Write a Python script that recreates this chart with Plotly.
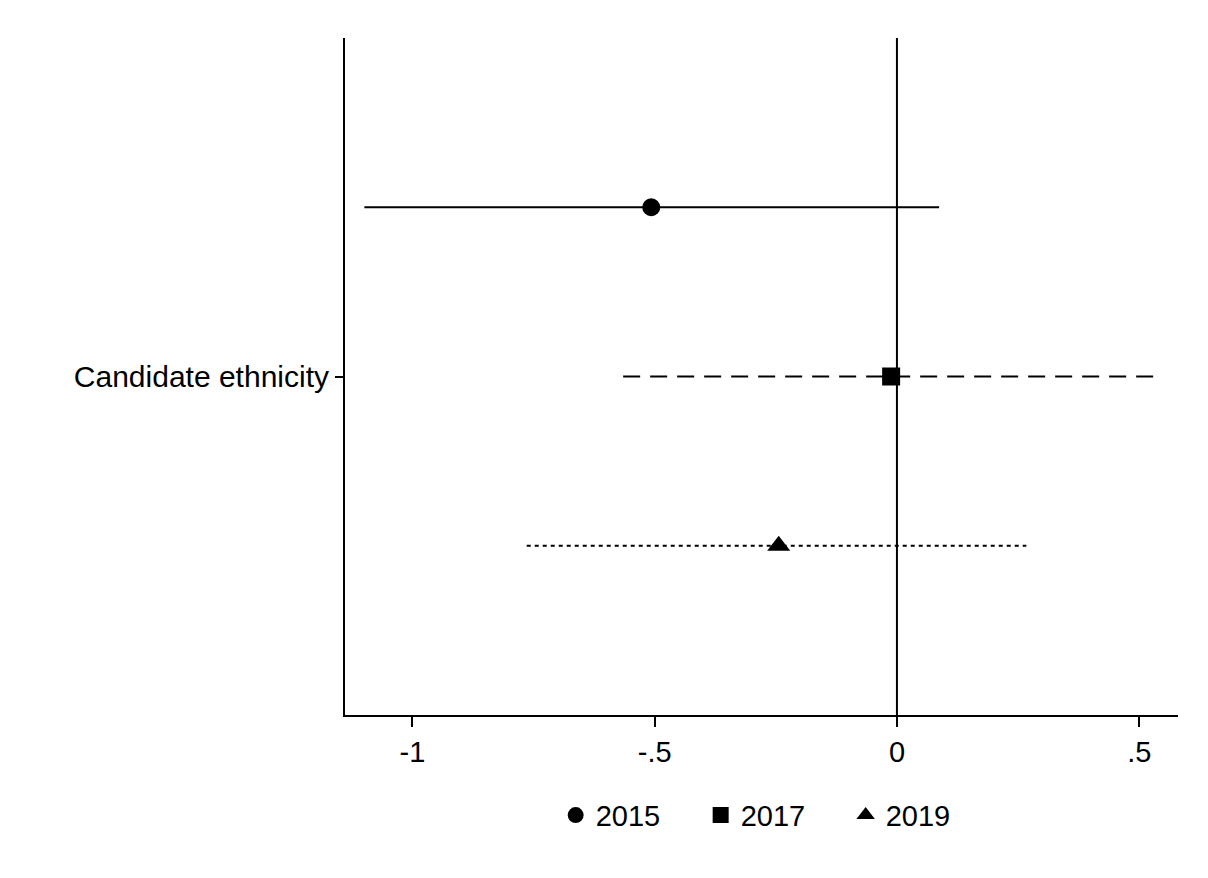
import plotly.graph_objects as go

category = "Candidate ethnicity"
years = ["2015", "2017", "2019"]
estimates = [-0.507, -0.012, -0.244]
lower = [-1.099, -0.565, -0.764]
upper = [0.087, 0.545, 0.267]
offsets = [0.25, 0.0, -0.25]
symbols = ["circle", "square", "triangle-up"]
marker_sizes = [18, 18, 20]
dashes = ["solid", "17px,10px", "4px,4px"]
xticks = [-1, -0.5, 0, 0.5]
xticklabels = ["-1", "-.5", "0", ".5"]

fig = go.Figure()
for i, yr in enumerate(years):
    yv = 1 + offsets[i]
    fig.add_trace(go.Scatter(
        x=[lower[i], upper[i]], y=[yv, yv], mode="lines",
        line=dict(color="black", width=2, dash=dashes[i]),
        showlegend=False, hoverinfo="skip"))
for i, yr in enumerate(years):
    yv = 1 + offsets[i]
    fig.add_trace(go.Scatter(
        x=[estimates[i]], y=[yv], mode="markers", name=yr,
        marker=dict(symbol=symbols[i], size=marker_sizes[i], color="black")))

fig.add_shape(type="line", xref="x", yref="paper", x0=0, x1=0, y0=0, y1=1,
              line=dict(color="black", width=2), layer="below")

fig.update_layout(
    width=1208, height=878,
    margin=dict(l=337, r=38, t=30, b=171),
    paper_bgcolor="white", plot_bgcolor="white",
    font=dict(family="Liberation Sans, Arial, sans-serif", size=29, color="black"),
    xaxis=dict(range=[-1.139, 0.580], tickvals=xticks, ticktext=xticklabels,
               showgrid=False, zeroline=False, showline=True, linecolor="black",
               linewidth=2, ticks="outside", ticklen=10, tickwidth=2,
               tickcolor="black", tickfont=dict(size=29)),
    yaxis=dict(range=[0.5, 1.5], tickvals=[1], ticktext=[category],
               showgrid=False, zeroline=False, showline=True, linecolor="black",
               linewidth=2, ticks="outside", ticklen=8, tickwidth=2,
               tickcolor="black", tickfont=dict(size=30)),
    legend=dict(orientation="h", x=0.514, xanchor="center", y=-0.148, yanchor="middle",
                font=dict(size=29), itemsizing="trace", bgcolor="rgba(0,0,0,0)",
                entrywidth=100),
    showlegend=True,
)

fig.write_html("out.html")
